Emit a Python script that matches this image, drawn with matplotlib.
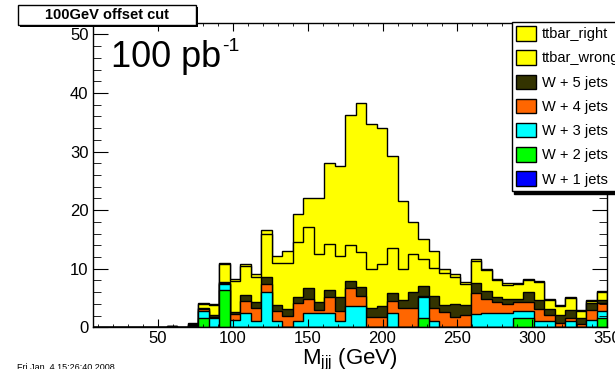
import numpy as np
import matplotlib
matplotlib.use("Agg")
import matplotlib.pyplot as plt
from matplotlib.patches import Rectangle
from matplotlib.ticker import MultipleLocator

plt.rcParams['font.family'] = ['Liberation Sans', 'DejaVu Sans']
plt.rcParams['mathtext.default'] = 'regular'

# 7 GeV bins, 7 .. 350 GeV (49 bins)
edges = np.arange(7, 351, 7)

# events per bin, one list per sample (bottom of the stack first)
w1 = [0] * 49
w2 = [0, 0, 0, 0, 0, 0, 0,
      0, 0, 0, 1.54, 0, 6.36, 0,
      0, 0, 0, 0, 0, 0, 0,
      0, 0, 0, 0, 0, 0, 0,
      0, 0, 0, 1.54, 0, 0, 0,
      0, 0, 0, 0, 0, 1.54, 1.54,
      0, 0, 0, 0, 0, 0, 1.54]
w3 = [0, 0, 0, 0, 0, 0, 0,
      0, 0, 0, 1.29, 1.54, 1.04, 1.3,
      2.4, 1.13, 5.97, 1.13, 0, 1.13, 2.39,
      2.39, 2.39, 1.13, 3.63, 3.63, 0, 0,
      2.39, 0, 0, 3.68, 1.13, 0, 0,
      0, 2.35, 2.39, 2.39, 2.39, 1.24, 1.24,
      1.13, 1.13, 0, 1.13, 0, 1.2, 1.16]
w4 = [0, 0, 0, 0, 0, 0, 0,
      0, 0, 0.2, 0.29, 0.27, 0.1, 0.9,
      2.14, 2.22, 1.37, 1.7, 1.98, 2.97, 2.44,
      0.56, 2.73, 1.7, 3.02, 1.71, 1.81, 1.7,
      2.15, 3.24, 3.35, 0.18, 2.11, 2.66, 1.81,
      2.1, 3.45, 2.39, 1.88, 1.53, 1.59, 1.59,
      1.94, 0.97, 0.68, 0.51, 0.51, 1.7, 1.4]
w5 = [0, 0, 0, 0, 0, 0, 0,
      0.15, 0, 0.15, 0.23, 0.29, 0.15, 0.36,
      0.96, 0.91, 1.19, 0.97, 1.14, 1.12, 1.82,
      1.42, 1.24, 2.39, 1.3, 1.48, 1.43, 1.93,
      1.36, 1.42, 2.62, 1.65, 2.1, 1.14, 2.17,
      1.7, 1.7, 1.42, 0.85, 0.86, 0.41, 1.7,
      1.59, 0.97, 1.42, 1.31, 1.03, 1.3, 0.6]
tt_wrong = [0, 0, 0, 0, 0, 0, 0,
            0.1, 0, 0.25, 0.65, 1.7, 3.2, 5.34,
            4.9, 4.34, 7.37, 7.2, 7.88, 9.38, 10.41,
            8.08, 7.8, 6.95, 6.05, 6.08, 6.76, 7.17,
            7.6, 5.29, 6.53, 4.6, 4.76, 5.5, 4.62,
            3.6, 3.9, 3.55, 2.93, 2.52, 2.62, 2.03,
            3.09, 1.58, 1.5, 2.05, 1.26, 0.25, 1.3]
tt_right = [0, 0, 0, 0, 0, 0, 0,
            0.05, 0, 0.15, 0.2, 0.18, 0.15, 0.3,
            0.35, 0.44, 0.7, 1.1, 2.07, 4.7, 4.94,
            9.55, 13.84, 15.33, 22.3, 25.4, 24.7, 23.2,
            15.7, 11.55, 5.4, 3.35, 2.9, 0.6, 0.44,
            0.3, 0.2, 0.2, 0.19, 0.2, 0.2, 0.2,
            0.2, 0.18, 0.2, 0.22, 0.15, 0.15, 0.2]

labels = ["W + 1 jets", "W + 2 jets", "W + 3 jets", "W + 4 jets",
          "W + 5 jets", "ttbar_wrong", "ttbar_right"]
colors = ["#0000ff", "#00ff00", "#00ffff", "#ff6600",
          "#333300", "#ffff00", "#ffff00"]

W, H = 615, 369
fig = plt.figure(figsize=(W / 100, H / 100), dpi=100)
ax = fig.add_axes([93.3 / W, 1 - 327.3 / H, (607.3 - 93.3) / W, (327.3 - 22.7) / H])

# THStack style: draw cumulative histograms, tallest first
cum = np.cumsum(np.array([w1, w2, w3, w4, w5, tt_wrong, tt_right]), axis=0)
for i in reversed(range(len(labels))):
    ax.stairs(cum[i], edges, fill=True, facecolor=colors[i],
              edgecolor="black", linewidth=1.0, label=labels[i])

ax.set_xlim(7, 350)
ax.set_ylim(0, 52)
ax.xaxis.set_major_locator(MultipleLocator(50))
ax.xaxis.set_minor_locator(MultipleLocator(10))
ax.yaxis.set_major_locator(MultipleLocator(10))
ax.yaxis.set_minor_locator(MultipleLocator(2))
ax.tick_params(which="both", direction="in", top=True, right=True, labelsize=12)
ax.tick_params(axis="x", which="major", length=6, pad=3)
ax.tick_params(axis="x", which="minor", length=2.5)
ax.tick_params(axis="y", which="major", length=11, pad=3.5)
ax.tick_params(axis="y", which="minor", length=5.5)
for s in ax.spines.values():
    s.set_linewidth(1)

ax.set_xlabel("M$_{jjj}$ (GeV)", fontsize=16, labelpad=0)

leg = ax.legend(loc="upper left", bbox_to_anchor=(511.7 / W, 1 - 21.7 / H),
                bbox_transform=fig.transFigure, fontsize=10.5, fancybox=False,
                edgecolor="black", framealpha=1, borderpad=0.3,
                labelspacing=0.62, handlelength=1.4, handleheight=1.15,
                handletextpad=0.35, borderaxespad=0,
                shadow={"color": "black", "alpha": 1})
leg.get_frame().set_linewidth(1)

# title box with shadow
fig.add_artist(Rectangle((20 / W, 1 - 27 / H), 178 / W, 20 / H,
                         transform=fig.transFigure, facecolor="black",
                         edgecolor="none", zorder=5))
fig.add_artist(Rectangle((18 / W, 1 - 25 / H), 178 / W, 20 / H,
                         transform=fig.transFigure, facecolor="white",
                         edgecolor="black", linewidth=1, zorder=6))
fig.text(107 / W, 1 - 15 / H, "100GeV offset cut", ha="center", va="center",
         fontsize=10.5, fontweight="bold", zorder=7)

# luminosity label: main text, then a short "-1" superscript right after it
lumi = fig.text(111 / W, 1 - 66.7 / H, "100 pb", va="baseline", fontsize=26)
fig.canvas.draw()
bb = lumi.get_window_extent()
fig.text((bb.x1 + 1) / W, 1 - 38 / H, "-1", va="top", fontsize=14)

fig.text(17 / W, 1 - 363 / H, "Fri Jan  4 15:26:40 2008", va="top", fontsize=6.5)

fig.savefig("out.png", dpi=100)
